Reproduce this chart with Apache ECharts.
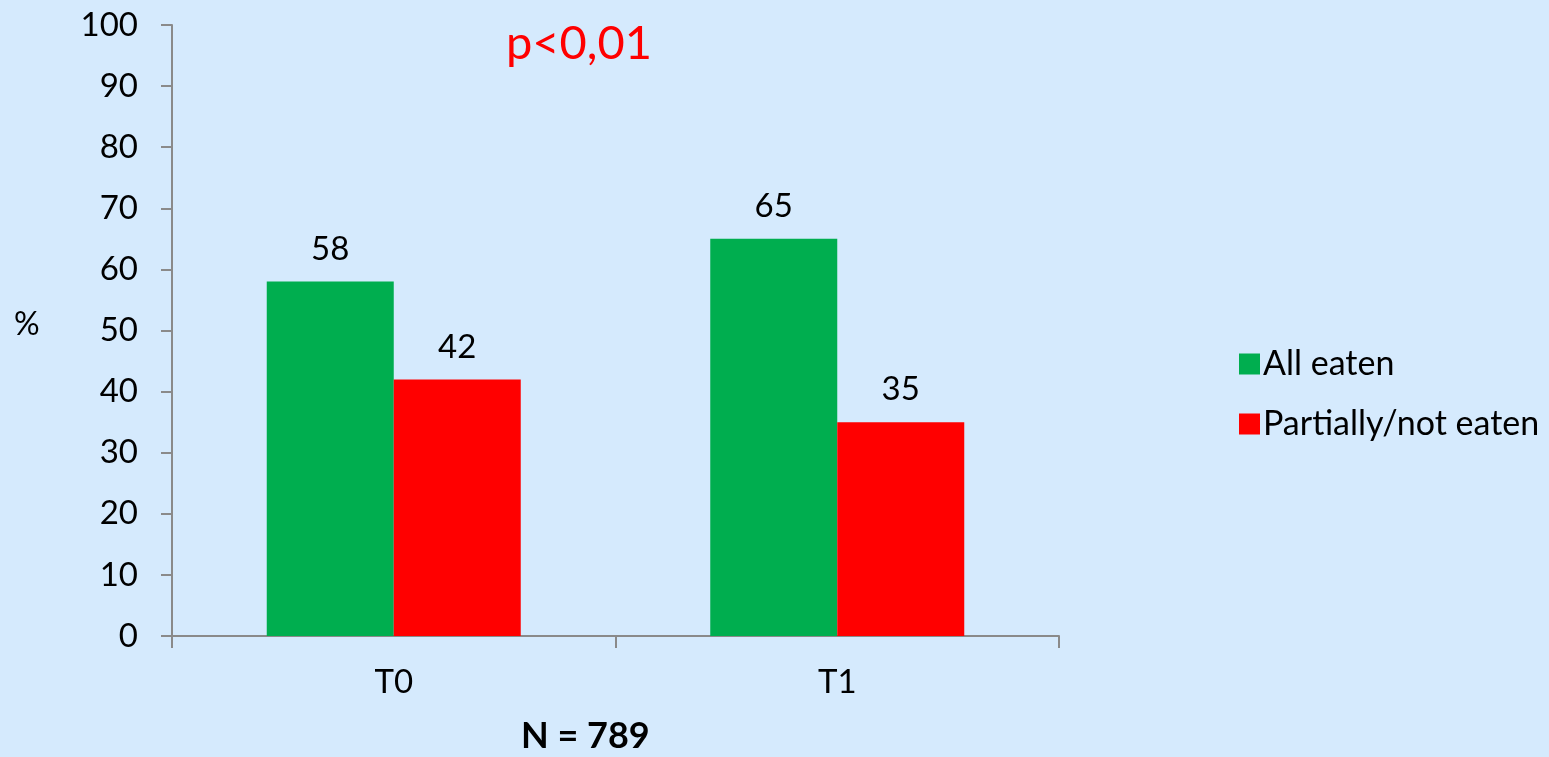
<!DOCTYPE html>
<html>
<head>
<meta charset="utf-8">
<script src="https://cdn.jsdelivr.net/npm/echarts@6/dist/echarts.min.js"></script>
<style>
  html, body { margin: 0; padding: 0; background: #d5eafd; }
  #chart { width: 1549px; height: 757px; }
</style>
</head>
<body>
<div id="chart"></div>
<script>
// Share of meals eaten at two time points
const categories = ['T0', 'T1'];
const allEaten = [58, 65];
const partiallyNotEaten = [42, 35];
const seriesNames = ['All eaten', 'Partially/not eaten'];
const yTicks = { min: 0, max: 100, interval: 10 };

const FONT = 'Lato, "Open Sans", sans-serif';
const axisGrey = '#8a8a8a';
const TEXT_SIZE = 33;

const chart = echarts.init(document.getElementById('chart'), null, { renderer: 'canvas' });

const labelStyle = {
  show: true,
  position: 'top',
  distance: 16,
  color: '#000',
  fontFamily: FONT,
  fontSize: TEXT_SIZE
};

chart.setOption({
  backgroundColor: '#d5eafd',
  animation: false,
  grid: { left: 172, top: 25, right: 490, bottom: 121, containLabel: false },
  legend: {
    orient: 'vertical',
    left: 1234,
    top: 342,
    itemWidth: 21,
    itemHeight: 21,
    itemGap: 26,
    icon: 'rect',
    textStyle: { fontFamily: FONT, fontSize: 34, color: '#000', padding: [0, 0, 0, -2] },
    data: seriesNames
  },
  xAxis: {
    type: 'category',
    data: categories,
    boundaryGap: true,
    axisLine: { lineStyle: { color: axisGrey, width: 2 } },
    axisTick: { show: true, length: 12, lineStyle: { color: axisGrey, width: 2 } },
    axisLabel: { color: '#000', fontFamily: FONT, fontSize: TEXT_SIZE, margin: 30 }
  },
  yAxis: {
    type: 'value',
    min: yTicks.min,
    max: yTicks.max,
    interval: yTicks.interval,
    splitLine: { show: false },
    axisLine: { show: true, lineStyle: { color: axisGrey, width: 2 } },
    axisTick: { show: true, length: 11, lineStyle: { color: axisGrey, width: 2 } },
    axisLabel: { color: '#000', fontFamily: FONT, fontSize: TEXT_SIZE, margin: 34 }
  },
  series: [
    {
      name: seriesNames[0],
      type: 'bar',
      data: allEaten,
      barWidth: 127,
      barGap: '0%',
      itemStyle: { color: '#00ae4f' },
      label: labelStyle
    },
    {
      name: seriesNames[1],
      type: 'bar',
      data: partiallyNotEaten,
      barWidth: 127,
      itemStyle: { color: '#ff0000' },
      label: labelStyle
    }
  ],
  graphic: [
    {
      type: 'text',
      left: 14, top: 309,
      style: { text: '%', fill: '#000', font: '32px ' + FONT }
    },
    {
      type: 'text',
      left: 506, top: 20,
      style: { text: 'p<0,01', fill: '#ff0000', font: '47px ' + FONT }
    },
    {
      type: 'text',
      left: 521, top: 718,
      style: { text: 'N = 789', fill: '#000', font: 'bold 36px ' + FONT }
    }
  ]
});
</script>
</body>
</html>
